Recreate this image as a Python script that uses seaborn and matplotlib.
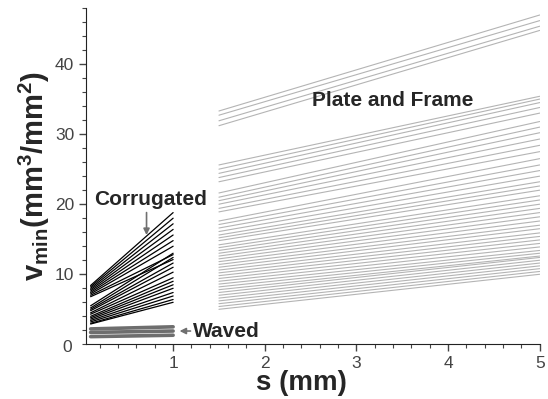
import numpy as np
import pandas as pd
import matplotlib
matplotlib.use("Agg")
import matplotlib.pyplot as plt
from matplotlib.ticker import MultipleLocator
import seaborn as sns

# line end points: value at s_start and at s_end
corr_s = [0.1, 1.0]
corr_start = [8.4, 8.2, 8.0, 7.8, 7.6, 7.4, 7.2, 7.0, 6.8, 5.5, 5.2, 5.0, 4.8, 4.5,
              4.3, 4.0, 3.8, 3.6, 3.4, 3.2, 3.0, 2.9]
corr_end = [18.8, 18.0, 17.2, 16.4, 15.6, 14.8, 14.0, 12.8, 12.1, 13.0, 12.4, 11.6,
            11.0, 10.3, 9.5, 9.0, 8.5, 8.0, 7.4, 6.9, 6.4, 6.0]

wave_s = [0.1, 1.0]
wave_start = [2.2, 1.7, 1.1]
wave_end = [2.5, 1.9, 1.3]

pf_s = [1.5, 5.0]
pf_start = [33.3, 32.7, 31.9, 31.2,
            25.6, 25.0, 24.4, 23.8, 23.2,
            21.6, 21.0, 20.5, 20.0, 19.4, 18.9,
            17.6, 17.1, 16.6, 16.1, 15.6, 15.2, 14.8,
            14.2, 13.8, 13.4, 13.0, 12.6, 12.2, 11.8, 11.4, 11.0,
            10.6, 10.2, 9.8, 9.4, 9.0, 8.6, 8.2, 7.8,
            7.4, 7.0, 6.6, 6.2, 5.8, 5.4, 5.0]
pf_end = [47.0, 46.2, 45.4, 44.8,
          35.4, 35.0, 34.5, 33.8, 33.0,
          31.8, 31.0, 30.2, 29.3, 28.4, 27.5,
          26.5, 25.6, 24.8, 24.0, 23.2, 22.6, 22.0,
          21.2, 20.6, 20.0, 19.4, 18.8, 18.2, 17.6, 17.0, 16.5,
          15.9, 15.4, 14.9, 14.4, 13.9, 13.4, 13.0, 12.6,
          12.4, 12.0, 11.6, 11.2, 10.8, 10.4, 10.0]


def to_long(s, starts, ends):
    rows = []
    for i, (a, b) in enumerate(zip(starts, ends)):
        rows.append({"id": i, "s": s[0], "v": a})
        rows.append({"id": i, "s": s[1], "v": b})
    return pd.DataFrame(rows)


sns.set_style("ticks")
plt.rcParams['font.family'] = ['Liberation Sans', 'DejaVu Sans']

fig = plt.figure(figsize=(5.48, 3.99), dpi=100)
ax = fig.add_axes([0.157, 0.137, 0.828, 0.843])

sns.lineplot(data=to_long(pf_s, pf_start, pf_end), x="s", y="v", units="id",
             estimator=None, color="#b4b4b4", linewidth=0.8, ax=ax)
sns.lineplot(data=to_long(corr_s, corr_start, corr_end), x="s", y="v", units="id",
             estimator=None, color="black", linewidth=0.9, ax=ax)
sns.lineplot(data=to_long(wave_s, wave_start, wave_end), x="s", y="v", units="id",
             estimator=None, color="#6e6e6e", linewidth=2.6, ax=ax)

ax.set_xlim(0.05, 5.0)
ax.set_ylim(0, 48)
ax.xaxis.set_major_locator(MultipleLocator(1))
ax.xaxis.set_minor_locator(MultipleLocator(0.2))
ax.yaxis.set_major_locator(MultipleLocator(10))
ax.yaxis.set_minor_locator(MultipleLocator(2))
ax.set_xticks([1, 2, 3, 4, 5])
ax.set_yticks([10, 20, 30, 40])
ax.tick_params(which="major", length=5, width=1, labelsize=12.5, colors="#444444")
ax.tick_params(which="minor", length=3, width=0.8, colors="#444444")
for sp in ["top", "right"]:
    ax.spines[sp].set_visible(False)
for sp in ["left", "bottom"]:
    ax.spines[sp].set_color("#222222")

ax.text(-0.03, -0.5, "0", transform=ax.get_yaxis_transform(), ha="right", va="center",
        fontsize=12.5, color="#444444")

ax.set_xlabel("s (mm)", fontsize=20, fontweight="bold", labelpad=1)
ax.xaxis.set_label_coords(0.474, -0.075)
ax.set_ylabel(r"v$_{\mathregular{min}}$(mm$^{\mathregular{3}}$/mm$^{\mathregular{2}}$)",
              fontsize=21, fontweight="bold", labelpad=2)

ax.text(0.75, 20.7, "Corrugated", fontsize=15, fontweight="bold", ha="center", va="center")
ax.annotate("", xy=(0.71, 15.2), xytext=(0.71, 19.2),
            arrowprops=dict(arrowstyle="-|>", color="#707070", lw=1.2, mutation_scale=9))
ax.text(1.22, 1.9, "Waved", fontsize=15, fontweight="bold", ha="left", va="center")
ax.annotate("", xy=(1.04, 1.9), xytext=(1.22, 1.9),
            arrowprops=dict(arrowstyle="-|>", color="#707070", lw=1.2, mutation_scale=9))
ax.text(3.40, 34.8, "Plate and Frame", fontsize=15, fontweight="bold", ha="center", va="center")

fig.savefig("out.png", dpi=100)
